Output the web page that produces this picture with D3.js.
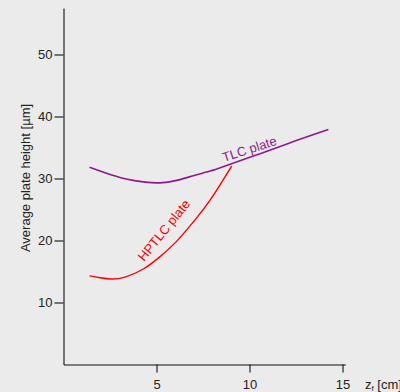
<!DOCTYPE html>
<html>
<head>
<meta charset="utf-8">
<script src="https://cdn.jsdelivr.net/npm/d3@7"></script>
<style>
  html, body { margin: 0; padding: 0; background: #ebebeb; }
  svg { display: block; font-family: "Liberation Sans", Arial, sans-serif; }
</style>
</head>
<body>
<div id="chart"></div>
<script>
// values
let tlcX = [1.40, 2.23, 3.31, 4.38, 5.19, 6.09, 6.98, 7.88, 8.77, 10.57, 12.4, 14.24];
let tlcY = [31.8, 30.94, 29.97, 29.42, 29.3, 29.7, 30.45, 31.2, 32.1, 34.0, 36.0, 37.9];
let hptlcX = [1.40, 1.96, 2.59, 3.31, 4.29, 5.19, 6.09, 6.98, 7.88, 9.04];
let hptlcY = [14.3, 14.0, 13.8, 14.1, 15.4, 17.4, 19.9, 23.0, 26.5, 32.0];
let xTicks = [5, 10, 15];
let yTicks = [10, 20, 30, 40, 50];

let width = 400, height = 392;

let svg = d3.select("#chart")
    .append("svg")
    .attr("width", width)
    .attr("height", height);

svg.append("rect")
    .attr("width", width)
    .attr("height", height)
    .attr("fill", "#ebebeb");

let x = d3.scaleLinear()
    .domain([0, 15.15])
    .range([63.5, 345.3]);

let y = d3.scaleLinear()
    .domain([0, 57.5])
    .range([364.5, 8]);

// axes
let xAxis = svg.append("g")
    .attr("transform", "translate(0,364.5)")
    .call(d3.axisBottom(x).tickValues(xTicks).tickSize(8).tickSizeOuter(0).tickPadding(7));

let yAxis = svg.append("g")
    .attr("transform", "translate(63.5,0)")
    .call(d3.axisLeft(y).tickValues(yTicks).tickSize(9).tickSizeOuter(0).tickPadding(2));

[xAxis, yAxis].forEach(a => {
    a.selectAll("path, line").attr("stroke", "#111").attr("stroke-width", 1.1);
    a.selectAll("text")
        .attr("fill", "#222")
        .style("font-size", "13px")
        .style("font-family", "Liberation Sans, Arial, sans-serif");
});

// curves
let line = d3.line()
    .x(d => x(d[0]))
    .y(d => y(d[1]))
    .curve(d3.curveNatural);

svg.append("path")
    .datum(d3.zip(tlcX, tlcY))
    .attr("fill", "none")
    .attr("stroke", "#8e1a8e")
    .attr("stroke-width", 1.6)
    .attr("d", line);

svg.append("path")
    .datum(d3.zip(hptlcX, hptlcY))
    .attr("fill", "none")
    .attr("stroke", "#ff0000")
    .attr("stroke-width", 1.4)
    .attr("d", line);

// curve labels
svg.append("text")
    .attr("transform", "translate(224,162) rotate(-18)")
    .attr("fill", "#8e1a8e")
    .style("font-size", "13px")
    .text("TLC plate");

svg.append("text")
    .attr("transform", "translate(144,262) rotate(-51)")
    .attr("fill", "#ff0000")
    .style("font-size", "13px")
    .text("HPTLC plate");

// axis titles
svg.append("text")
    .attr("transform", "translate(29.5,178) rotate(-90)")
    .attr("text-anchor", "middle")
    .attr("fill", "#222")
    .style("font-size", "13px")
    .text("Average plate height [µm]");

let xt = svg.append("text")
    .attr("x", 365)
    .attr("y", 388.7)
    .attr("fill", "#222")
    .style("font-size", "13px");
xt.append("tspan").text("z");
xt.append("tspan").attr("dy", 2).style("font-size", "8px").text("f");
xt.append("tspan").attr("dy", -2).text(" [cm]");
</script>
</body>
</html>
